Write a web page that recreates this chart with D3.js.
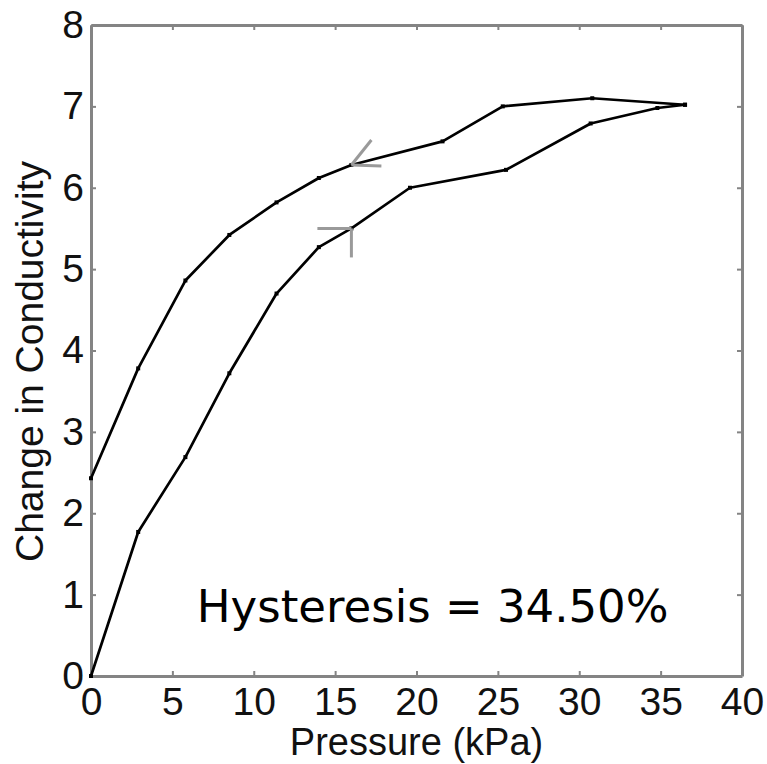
<!DOCTYPE html>
<html>
<head>
<meta charset="utf-8">
<script src="https://cdn.jsdelivr.net/npm/d3@7"></script>
<style>
  body { margin: 0; background: #fff; }
  .tick text { font-family: "Liberation Sans", Arial, sans-serif; font-size: 39px; fill: #111; }
</style>
</head>
<body>
<div id="chart"></div>
<script>
/* loading branch (pressure going up) */
const loadPressure = [0, 2.9, 5.8, 8.5, 11.4, 14.0, 16.0, 19.6, 25.5, 30.7, 34.8, 36.5];
const loadCond     = [0, 1.77, 2.69, 3.72, 4.70, 5.27, 5.50, 6.00, 6.22, 6.79, 6.98, 7.02];
/* unloading branch (pressure going down) */
const unloadPressure = [36.5, 30.8, 25.3, 21.6, 16.0, 14.0, 11.4, 8.5, 5.8, 2.9, 0];
const unloadCond     = [7.02, 7.10, 7.00, 6.57, 6.28, 6.12, 5.82, 5.42, 4.86, 3.78, 2.43];

const xTicks = [0, 5, 10, 15, 20, 25, 30, 35, 40];
const yTicks = [0, 1, 2, 3, 4, 5, 6, 7, 8];

const xLabel = "Pressure (kPa)";
const yLabel = "Change in Conductivity";
const note = "Hysteresis = 34.50%";

/* direction arrows sit on these data points */
const arrowPoints = [
  { p: 16.0, c: 6.28, arms: [[20, -25], [30, 1]] },   // unloading, pointing back
  { p: 16.0, c: 5.50, arms: [[-34, 0], [0, 29]] }     // loading, pointing forward
];

/* dimensions */
const W = 767, H = 764;
const margin = { top: 25, right: 25, bottom: 88, left: 91 };
const width = W - margin.left - margin.right,
      height = H - margin.top - margin.bottom;

const svg = d3.select("#chart").append("svg")
    .attr("width", W).attr("height", H)
  .append("g")
    .attr("transform", `translate(${margin.left}, ${margin.top})`);

const x = d3.scaleLinear().domain([0, 40]).range([0, width]);
const y = d3.scaleLinear().domain([0, 8]).range([height, 0]);

const axisColor = "#848484";

/* axes, ticks pointing inwards on all four sides */
svg.append("g").attr("transform", `translate(0, ${height})`)
   .call(d3.axisBottom(x).tickValues(xTicks).tickSize(-5).tickSizeOuter(0).tickPadding(11));
svg.append("g")
   .call(d3.axisLeft(y).tickValues(yTicks).tickSize(-5).tickSizeOuter(0).tickPadding(7));
svg.append("g")
   .call(d3.axisTop(x).tickValues(xTicks).tickSize(-5).tickSizeOuter(0).tickFormat(""));
svg.append("g").attr("transform", `translate(${width}, 0)`)
   .call(d3.axisRight(y).tickValues(yTicks).tickSize(-5).tickSizeOuter(0).tickFormat(""));

svg.selectAll(".domain").attr("stroke", axisColor).attr("stroke-width", 3);
svg.selectAll(".tick line").attr("stroke", axisColor).attr("stroke-width", 2);

/* curves */
const line = d3.line().x(d => x(d[0])).y(d => y(d[1]));
const branches = [
  d3.zip(loadPressure, loadCond),
  d3.zip(unloadPressure, unloadCond)
];

branches.forEach(function(pts) {
  svg.append("path")
     .datum(pts)
     .attr("d", line)
     .attr("fill", "none")
     .attr("stroke", "#000")
     .attr("stroke-width", 2.7)
     .attr("stroke-linejoin", "round");

  svg.selectAll(null)
     .data(pts)
     .enter()
     .append("rect")
     .attr("x", d => x(d[0]) - 2)
     .attr("y", d => y(d[1]) - 2)
     .attr("width", 4)
     .attr("height", 4)
     .attr("fill", "#000");
});

/* gray arrow heads */
arrowPoints.forEach(function(a) {
  a.arms.forEach(function(arm) {
    svg.append("line")
       .attr("x1", x(a.p)).attr("y1", y(a.c))
       .attr("x2", x(a.p) + arm[0]).attr("y2", y(a.c) + arm[1])
       .attr("stroke", "#9a9a9a")
       .attr("stroke-width", 3);
  });
});

/* hysteresis note */
svg.append("text")
   .attr("x", x(6.5))
   .attr("y", y(0.66))
   .style("font-family", "'DejaVu Sans', sans-serif")
   .style("font-size", "45px")
   .attr("fill", "#000")
   .text(note);

/* axis labels */
svg.append("text")
   .attr("x", width / 2)
   .attr("y", height + 79)
   .attr("text-anchor", "middle")
   .style("font-family", "'Liberation Sans', Arial, sans-serif")
   .style("font-size", "38px")
   .attr("fill", "#111")
   .text(xLabel);

svg.append("text")
   .attr("transform", `translate(${43 - margin.left}, ${height / 2 + 11}) rotate(-90)`)
   .attr("text-anchor", "middle")
   .style("font-family", "'Liberation Sans', Arial, sans-serif")
   .style("font-size", "39px")
   .attr("fill", "#111")
   .text(yLabel);
</script>
</body>
</html>
